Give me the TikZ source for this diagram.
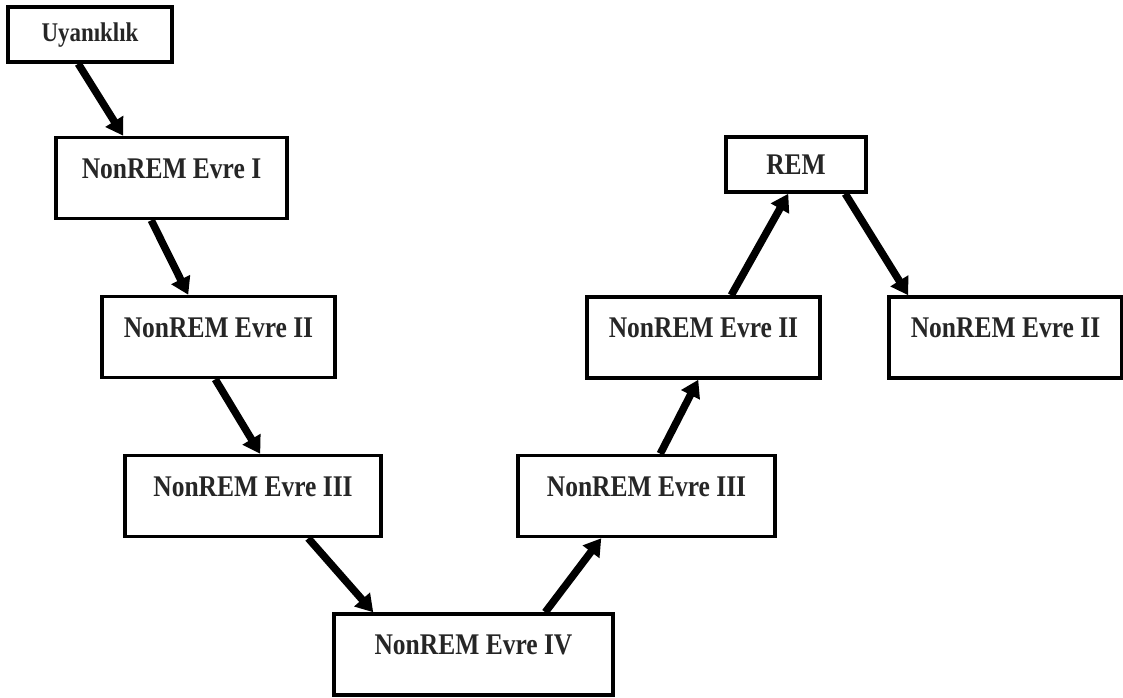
\documentclass[tikz,border=0pt]{standalone}
\usepackage{fontspec}
\setmainfont{Liberation Serif}[FakeStretch=0.85]
\usetikzlibrary{arrows.meta,calc}
\begin{document}
\begin{tikzpicture}[x=1pt,y=-1pt,
  box/.style={draw=black,line width=3.5pt,fill=white,inner sep=0pt,
    font=\fontsize{30}{30}\selectfont\bfseries,text=black!85},
  bigbox/.style={box,text height=20pt,text depth=20pt,minimum height=81pt},
  smallbox/.style={box,minimum height=55pt},
  arr/.style={line width=7.5pt,-{Triangle[length=17pt,width=20pt]}}]
\useasboundingbox (0,0) rectangle (1123,697);
\node[smallbox,minimum width=164pt,text height=17pt,text depth=4pt,font=\fontsize{27}{27}\selectfont\bfseries] (u) at (90,34.5) {Uyanıklık};
\node[bigbox,minimum width=231pt] (e1) at (171.5,178) {NonREM Evre I};
\node[bigbox,minimum width=233pt] (e2) at (218.5,337) {NonREM Evre II};
\node[bigbox,minimum width=256pt] (e3) at (253,496) {NonREM Evre III};
\node[bigbox,minimum width=279pt] (e4) at (473.5,654.5) {NonREM Evre IV};
\node[bigbox,minimum width=257pt] (r3) at (646.5,496) {NonREM Evre III};
\node[bigbox,minimum width=233pt] (r2) at (703.5,337.5) {NonREM Evre II};
\node[smallbox,minimum width=140pt] (rem) at (796,164.5) {REM};
\node[bigbox,minimum width=233pt] (f2) at (1005.5,337.5) {NonREM Evre II};
\draw[arr] ($(u.south west)+(72,0)$) -- ($(e1.north west)+(69,0)$);
\draw[arr] ($(e1.south west)+(97,0)$) -- ($(e2.north west)+(88,0)$);
\draw[arr] ($(e2.south west)+(115,0)$) -- ($(e3.north west)+(137,0)$);
\draw[arr] ($(e3.south west)+(185,0)$) -- ($(e4.north west)+(41,0)$);
\draw[arr] ($(e4.north west)+(213,0)$) -- ($(r3.south west)+(85,0)$);
\draw[arr] ($(r3.north west)+(144,0)$) -- ($(r2.south west)+(113,0)$);
\draw[arr] ($(r2.north west)+(146,0)$) -- ($(rem.south west)+(64,0)$);
\draw[arr] ($(rem.south west)+(121,0)$) -- ($(f2.north west)+(21,0)$);
\end{tikzpicture}
\end{document}
